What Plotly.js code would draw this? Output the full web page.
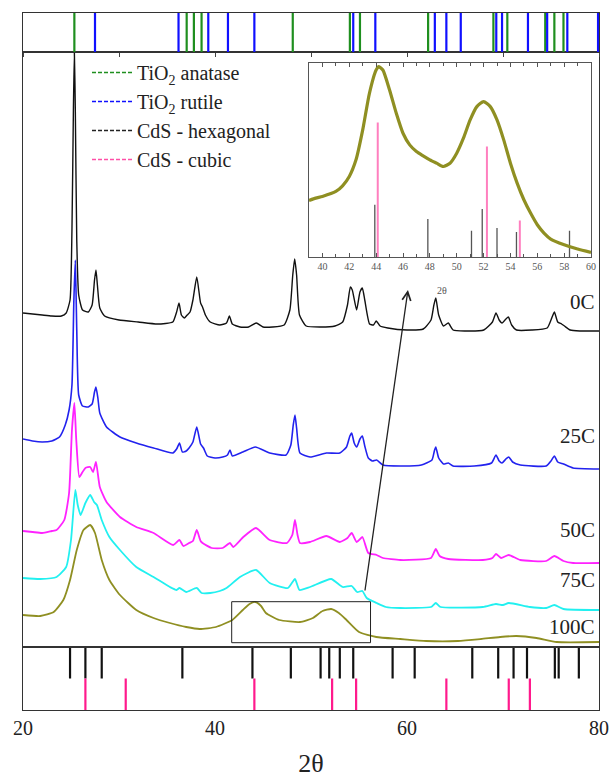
<!DOCTYPE html>
<html><head><meta charset="utf-8">
<script src="https://cdn.plot.ly/plotly-3.0.1.min.js"></script>
<style>body{margin:0;background:#fff}#c{width:614px;height:778px}</style>
</head><body><div id="c"></div>
<script>
// ---- reference line positions (2θ) ----
const anatase = [25.35, 37.05, 37.8, 38.6, 48.1, 54.05, 55.1, 62.2, 69.0, 70.45, 74.4, 75.35, 76.3];
const rutile  = [27.5, 36.2, 39.3, 41.35, 44.1, 54.4, 56.7, 62.9, 64.1, 65.6, 69.3, 69.9, 72.6, 74.6, 76.7, 79.9];
const hexagonal = [24.9, 26.5, 28.2, 36.6, 43.9, 47.9, 51.0, 51.9, 53.0, 54.4, 58.5, 60.8, 66.8, 69.5, 71.1, 72.5, 75.4, 75.8, 77.9];
const cubic = [26.5, 30.7, 44.1, 52.2, 54.7, 64.1, 70.6, 72.8];

// ---- diffractograms (offset intensity, arb. units) ----
const x0C = [20,21,22,23,24,24.5,24.9,25.1,25.25,25.35,25.45,25.6,25.8,26.2,26.8,27.2,27.45,27.6,27.75,28.0,28.5,30,32,34,35.6,36.0,36.25,36.5,36.8,37.1,37.4,37.7,38.1,38.5,38.7,39.0,39.5,40.5,41.2,41.5,41.8,42.6,43.5,44.3,45.0,46,47.2,47.8,48.1,48.3,48.5,48.8,49.5,51,52.5,53.3,53.8,54.1,54.3,54.75,55.1,55.35,55.6,56.1,56.5,56.8,57.2,58,60,61.7,62.5,62.8,63.0,63.3,63.8,64.3,64.8,66,68,68.9,69.27,69.6,69.9,70.3,70.56,70.9,71.4,73,74.6,75.0,75.35,75.7,76.1,76.4,77.0,78,80];
const y0C = [334,333,332,331,331,334,347,417,537,595,537,407,352,337,335,342,367,377,362,339,331,327,325,323,325,335,344,332,329,332,335,347,370,344,340,332,325,322,324,331,323,320,320,324,320,320,322,337,372,388,372,332,321,320,321,325,342,360,357,337,355,359,347,323,322,326,321,319,317,318,327,342,349,332,321,324,317,316,317,325,334,327,324,328,330,322,317,317,319,327,335,325,323,321,317,316,316];

const x25C = [20,21,22,23,23.8,24.4,24.8,25.1,25.3,25.45,25.6,25.8,26.2,26.8,27.2,27.45,27.6,27.8,28.0,28.7,30.1,31.8,33.6,35.6,36.0,36.3,36.6,37.0,37.3,37.7,38.1,38.5,38.8,39.2,40.0,40.8,41.3,41.56,41.8,42.9,44.2,45.7,47.4,47.9,48.15,48.33,48.5,48.85,49.9,51.6,53.0,53.7,54.05,54.24,54.5,54.76,55.1,55.35,55.6,55.97,56.4,56.84,57.5,59.3,61.5,62.6,62.85,63.0,63.3,63.8,64.3,64.8,67,68.8,69.27,69.6,69.9,70.3,70.6,71.0,71.8,74.5,75.0,75.35,75.7,76.3,77.3,80];
const y25C = [208,206,205,206,210,222,237,262,347,387,317,252,241,240,243,255,260,249,234,220,210,204,199,194,198,204,195,196,199,205,220,203,199,191,189,190,192,197,191,195,200,194,192,202,222,232,219,194,190,194,194,200,211,214,204,200,208,211,201,189,186,187,182,181,182,187,196,200,189,183,184,181,181,184,192,186,184,188,190,185,182,181,186,191,185,183,179,178];

const x50C = [20,21,22,23,23.5,24.3,24.8,25.1,25.35,25.55,25.87,26.2,26.5,27.0,27.3,27.6,28.0,28.7,30.1,31.8,33.6,35.65,36.3,36.7,37.3,37.7,38.1,38.5,38.7,39.65,40.8,41.56,41.9,42.95,44.27,45.7,47.5,48.05,48.33,48.6,48.85,49.9,51.6,53.0,53.8,54.24,54.76,55.35,55.97,56.84,57.5,59.3,62.5,63.0,63.4,64.3,67.9,68.9,69.27,69.8,70.6,71.8,74.5,75.35,76.3,77.3,80];
const y50C = [116,115,114,116,117,127,154,217,244,207,170,175,179,180,175,185,160,145,130,120,114,102,107,101,104,106,117,106,104,99,99,104,100,110,119,107,104,112,127,112,104,105,111,105,109,114,105,110,94,92,89,87,89,98,91,88,87,89,93,89,92,87,86,91,86,84,84];

const x75C = [20,21.8,23.5,24.5,25.0,25.45,25.7,26.0,26.5,27.0,27.4,27.7,28.2,29.0,30.1,31.8,33.6,35.3,36.0,36.3,37.0,38.1,38.6,39.5,40.5,41.2,42.6,44.27,45.7,47.6,48.33,48.8,49.9,52.1,53.3,54.24,54.8,55.35,55.8,56.84,57.8,59.3,62.5,63.0,63.5,67.9,69.27,70.0,70.6,72.8,74.5,75.35,76.3,80];
const y75C = [69,68,70,80,107,157,142,132,144,152,145,142,127,110,97,80,70,60,57,59,55,59,54,54,56,59,70,77,64,59,68,57,60,68,60,61,55,56,49,44,40,39,40,44,40,40,43,42,44,40,39,42,38,37];

const x100C = [20,21.8,23.2,24.2,24.9,25.6,26.3,27.0,27.5,28.2,29.0,30.1,31.8,33.6,35.3,37.0,38.4,40.1,41.8,42.9,43.6,44.2,44.8,45.3,46.7,48.85,50.2,51.2,52.1,52.9,53.7,55.0,56.8,59.3,62,65.3,67.7,69.7,71.4,73.5,75.6,80];
const y100C = [32,31,35,47,67,97,117,122,114,87,67,52,37,29,24,20,18,20,27,37,43,45,41,34,27,25,29,36,38,34,27,15,10,8,6,6,8,10,11,9,5,5];

// ---- inset (100C, zoomed) ----
const xInset = [39,39.5,40,41,41.5,42,42.5,43,43.5,44,44.2,44.5,45,45.5,46,46.5,47,47.5,48,48.5,49,49.5,50,50.5,51,51.5,52,52.5,53,53.5,54,54.5,55,55.5,56,56.5,57,58,59,60];
const yInset = [170,177,182,197,214,242,292,382,492,562,572,562,502,432,372,337,317,304,292,282,272,282,312,357,412,452,467,452,412,352,282,222,172,132,97,72,54,37,24,14];
const hexInsetPos = [43.9, 47.85, 51.1, 51.9, 53.0, 54.45, 58.4];
const hexInsetInt = [157, 114, 79, 144, 87, 75, 79];
const cubInsetPos = [44.12, 52.25, 54.7];
const cubInsetInt = [404, 332, 110];

const seriesNames = ['0C','25C','50C','75C','100C'];
const labelY = [345, 211, 117, 67, 20];
const legendNames = ['TiO<sub>2</sub> anatase','TiO<sub>2</sub> rutile','CdS - hexagonal','CdS - cubic'];
const xTickVals = [20, 40, 60, 80];
const xMinorVals = [30, 50, 70];

const FONT = 'Liberation Serif, Times New Roman, serif';
const colors = {anatase:'#1f8f1f', rutile:'#1010ff', hex:'#111111', cub:'#ff1a8c'};

function sticks(pos, lo, hi, xa, ya, color, w){
  const x = [], y = [];
  pos.forEach((p,i)=>{ x.push(p,p,null); y.push(lo, Array.isArray(hi)?hi[i]:hi, null); });
  return {type:'scatter', mode:'lines', x, y, xaxis:xa, yaxis:ya, showlegend:false,
          line:{color, width:w}, hoverinfo:'skip'};
}
function curve(x, y, color, xa, ya, w){
  return {type:'scatter', mode:'lines', x, y, xaxis:xa, yaxis:ya, showlegend:false,
          line:{color, width:w, shape:'spline', smoothing:0.5}, hoverinfo:'skip'};
}

const data = [
  sticks(anatase, 0, 1, 'x3', 'y3', colors.anatase, 2.2),
  sticks(rutile, 0, 1, 'x3', 'y3', colors.rutile, 2.2),
  sticks(hexagonal, 0.5, 1, 'x', 'y', colors.hex, 2.2),
  sticks(cubic, 0, 0.5, 'x', 'y', colors.cub, 2.2),
  curve(x100C, y100C, '#8f8f22', 'x2', 'y2', 1.8),
  curve(x75C, y75C, '#22f0f0', 'x2', 'y2', 1.8),
  curve(x50C, y50C, '#ff22ff', 'x2', 'y2', 1.8),
  curve(x25C, y25C, '#2222ee', 'x2', 'y2', 1.6),
  curve(x0C, y0C, '#111111', 'x2', 'y2', 1.4),
  sticks(hexInsetPos, 0, hexInsetInt, 'x4', 'y4', '#555555', 1.3),
  sticks(cubInsetPos, 0, cubInsetInt, 'x4', 'y4', '#ff7fbf', 2),
  {type:'scatter', mode:'lines', x:xInset, y:yInset, xaxis:'x4', yaxis:'y4', showlegend:false,
   line:{color:'#8f8f22', width:3.2, shape:'spline', smoothing:0.6}, hoverinfo:'skip'}
];
const legColors = [colors.anatase, colors.rutile, '#222222', '#ff4fa7'];
legendNames.forEach((n,i)=>data.push({type:'scatter', mode:'lines', x:[null], y:[null], xaxis:'x2', yaxis:'y2',
  name:n, line:{color:legColors[i], width:1.5, dash:'4px,2px'}}));

const frame = {showline:true, linecolor:'#333', linewidth:1, mirror:true, zeroline:false, showgrid:false};
const yStrip = 63/697, yTop = 658/697;
const layout = {
  width:614, height:778, margin:{l:23, r:15, t:13, b:68},
  paper_bgcolor:'#fff', plot_bgcolor:'rgba(0,0,0,0)',
  font:{family:FONT, color:'#222', size:20},
  showlegend:true,
  legend:{x:(87-23)/576, y:(710-53)/697, xanchor:'left', yanchor:'top', bgcolor:'rgba(0,0,0,0)',
          font:{family:FONT, size:20, color:'#222'}, tracegroupgap:0, itemwidth:40},
  xaxis:Object.assign({}, frame, {range:[20,80], domain:[0,1], anchor:'y', ticks:'',
          tickvals:xTickVals, ticktext:xTickVals.map(String),
          tickfont:{size:20, family:FONT, color:'#222'},
          title:{text:'2θ', font:{size:26, family:FONT, color:'#222'}, standoff:16}}),
  xaxis5:{range:[20,80], overlaying:'x', anchor:'y', side:'bottom', showline:false, showgrid:false, zeroline:false,
          showticklabels:false, ticks:'outside', ticklen:10, tickcolor:'#444', tickvals:xTickVals,
          minor:{tickvals:xMinorVals, ticklen:5, ticks:'outside', tickcolor:'#444'}},
  yaxis:Object.assign({}, frame, {range:[0,1], domain:[0,yStrip], anchor:'x', showticklabels:false, ticks:''}),
  xaxis2:Object.assign({}, frame, {range:[20,80], domain:[0,1], anchor:'y2', showticklabels:false, ticks:''}),
  yaxis2:Object.assign({}, frame, {range:[0,595], domain:[yStrip,yTop], anchor:'x2', showticklabels:false, ticks:''}),
  xaxis3:Object.assign({}, frame, {range:[20,80], domain:[0,1], anchor:'y3', showticklabels:false,
          ticks:'outside', ticklen:4, tickcolor:'#444', dtick:10, tick0:20}),
  yaxis3:Object.assign({}, frame, {range:[0,1], domain:[yTop,1], anchor:'x3', showticklabels:false, ticks:''}),
  xaxis4:Object.assign({}, frame, {range:[39,60], domain:[(309-23)/576,(591-23)/576], anchor:'y4',
          ticks:'inside', ticklen:4, tickcolor:'#555', dtick:2, tick0:40, mirror:'allticks',
          minor:{dtick:1, ticklen:3, ticks:'inside', tickcolor:'#555'},
          tickfont:{size:10, family:FONT, color:'#555'}, linecolor:'#555'}),
  yaxis4:Object.assign({}, frame, {range:[0,584], domain:[(710-257)/697,(710-62.7)/697], anchor:'x4',
          showticklabels:false, ticks:'', linecolor:'#555'}),
  shapes:[
    {type:'rect', xref:'x2', yref:'y2', x0:41.74, x1:56.2, y0:4.3, y1:45.3, line:{color:'#222', width:1}}
  ],
  annotations: seriesNames.map((n,i)=>({xref:'x2', yref:'y2', x:79.8, y:labelY[i], text:n, showarrow:false,
      xanchor:'right', yanchor:'middle', font:{size:21, family:FONT, color:'#222'}})).concat([
    {xref:'x2', yref:'y2', axref:'x2', ayref:'y2', x:60.1, y:357, ax:55.6, ay:55, text:'', showarrow:true,
     arrowhead:5, arrowsize:1.3, arrowwidth:1.3, arrowcolor:'#222'},
    {xref:'paper', yref:'paper', x:(449-23)/576, y:(710-290)/697, text:'2θ', showarrow:false,
     font:{size:10, family:FONT, color:'#555'}}
  ])
};
Plotly.newPlot('c', data, layout, {staticPlot:true});
</script></body></html>
